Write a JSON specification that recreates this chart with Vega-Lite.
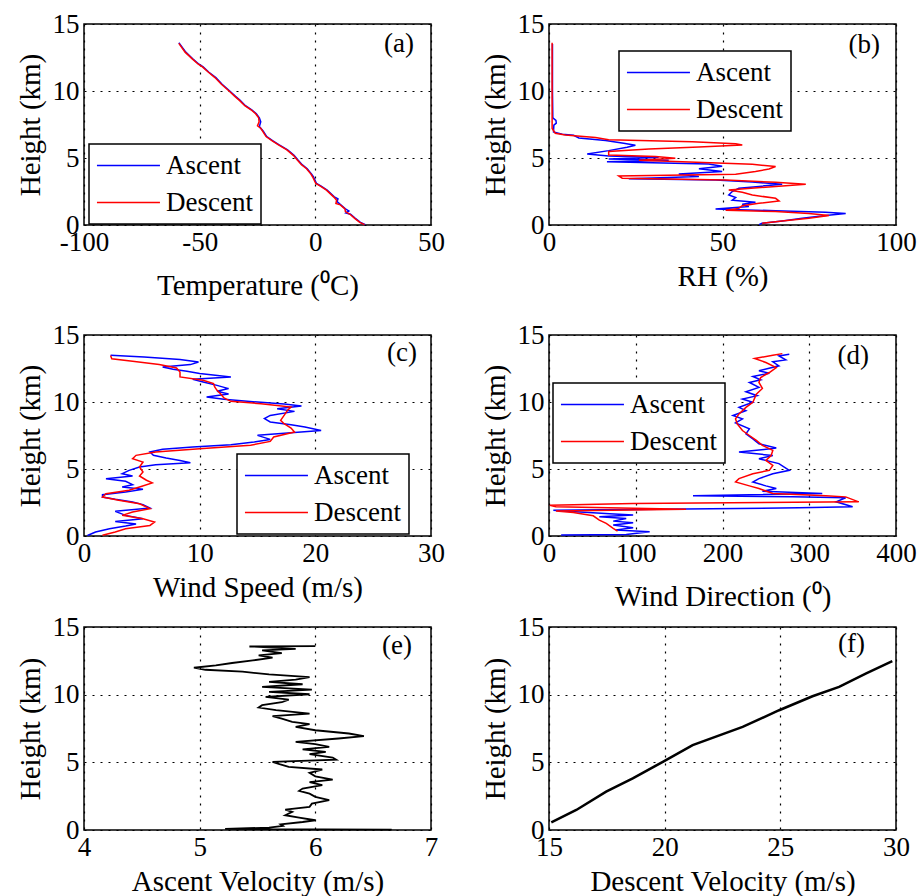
{
  "$schema": "https://vega.github.io/schema/vega-lite/v6.json",
  "background": "white",
  "padding": {"left": 15, "top": 9, "right": 0, "bottom": 0},
  "config": {
    "font": "Liberation Serif",
    "view": {"stroke": "black", "strokeWidth": 1.5},
    "axis": {"domain": false, "ticks": false, "grid": true, "gridColor": "black", "gridDash": [2, 6], "gridWidth": 1.2, "gridOpacity": 1,
      "labelFont": "Liberation Serif", "labelFontSize": 27, "labelFontWeight": "normal", "labelColor": "black",
      "titleFont": "Liberation Serif", "titleFontSize": 29, "titleFontWeight": "normal", "titleColor": "black",
      "labelFlush": false, "labelOverlap": false},
    "axisX": {"labelPadding": 4, "titleBaseline": "alphabetic", "titleY": 60},
    "axisY": {"labelPadding": 5, "titleBaseline": "alphabetic", "titleX": -45},
    "legend": {"orient": "none", "symbolType": "M-1.29,0H4.71", "symbolSize": 441, "symbolStrokeWidth": 1.5,
      "labelFont": "Liberation Serif", "labelFontSize": 27, "labelFontWeight": "normal", "labelColor": "black",
      "labelOffset": 42, "rowPadding": 9, "padding": 8, "strokeColor": "black", "fillColor": "white", "strokeWidth": 1.5},
    "title": {"font": "Liberation Serif", "fontSize": 27, "fontWeight": "normal", "color": "black", "anchor": "end", "frame": "group", "baseline": "alphabetic"}
  },
  "datasets": {
    "temp": [
      {"s":"Ascent","h":0.03,"v":21.6},{"s":"Ascent","h":0.2,"v":19.5},{"s":"Ascent","h":0.5,"v":17.3},{"s":"Ascent","h":0.8,"v":15.2},{"s":"Ascent","h":0.9,"v":13.2},{"s":"Ascent","h":1.05,"v":14.5},{"s":"Ascent","h":1.2,"v":13.0},{"s":"Ascent","h":1.5,"v":11.0},{"s":"Ascent","h":1.75,"v":9.4},{"s":"Ascent","h":1.95,"v":9.8},{"s":"Ascent","h":2.1,"v":8.2},{"s":"Ascent","h":2.6,"v":5.1},{"s":"Ascent","h":2.9,"v":2.5},{"s":"Ascent","h":3.1,"v":0.5},{"s":"Ascent","h":3.6,"v":-0.8},{"s":"Ascent","h":3.8,"v":-1.6},{"s":"Ascent","h":4.2,"v":-3.5},{"s":"Ascent","h":4.5,"v":-5.7},{"s":"Ascent","h":4.85,"v":-7.5},{"s":"Ascent","h":5.2,"v":-9.2},{"s":"Ascent","h":5.6,"v":-12.0},{"s":"Ascent","h":6.0,"v":-15.8},{"s":"Ascent","h":6.3,"v":-18.5},{"s":"Ascent","h":6.6,"v":-21.0},{"s":"Ascent","h":7.0,"v":-22.5},{"s":"Ascent","h":7.35,"v":-24.2},{"s":"Ascent","h":7.7,"v":-23.6},{"s":"Ascent","h":8.0,"v":-24.2},{"s":"Ascent","h":8.3,"v":-25.5},{"s":"Ascent","h":8.6,"v":-27.5},{"s":"Ascent","h":8.9,"v":-30.2},{"s":"Ascent","h":9.3,"v":-32.5},{"s":"Ascent","h":9.6,"v":-34.5},{"s":"Ascent","h":10.0,"v":-37.0},{"s":"Ascent","h":10.5,"v":-40.3},{"s":"Ascent","h":11.0,"v":-43.0},{"s":"Ascent","h":11.4,"v":-46.0},{"s":"Ascent","h":11.8,"v":-48.5},{"s":"Ascent","h":12.0,"v":-50.3},{"s":"Ascent","h":12.4,"v":-53.0},{"s":"Ascent","h":12.9,"v":-56.0},{"s":"Ascent","h":13.6,"v":-59.0},
      {"s":"Descent","h":13.55,"v":-59.0},{"s":"Descent","h":12.9,"v":-56.3},{"s":"Descent","h":12.4,"v":-53.2},{"s":"Descent","h":12.0,"v":-50.6},{"s":"Descent","h":11.8,"v":-48.8},{"s":"Descent","h":11.4,"v":-46.2},{"s":"Descent","h":11.0,"v":-43.4},{"s":"Descent","h":10.5,"v":-40.6},{"s":"Descent","h":10.0,"v":-37.3},{"s":"Descent","h":9.6,"v":-34.8},{"s":"Descent","h":9.3,"v":-32.8},{"s":"Descent","h":8.9,"v":-30.5},{"s":"Descent","h":8.6,"v":-27.8},{"s":"Descent","h":8.3,"v":-25.8},{"s":"Descent","h":8.0,"v":-24.5},{"s":"Descent","h":7.7,"v":-24.3},{"s":"Descent","h":7.4,"v":-25.0},{"s":"Descent","h":7.2,"v":-23.5},{"s":"Descent","h":6.6,"v":-21.3},{"s":"Descent","h":6.3,"v":-18.8},{"s":"Descent","h":6.0,"v":-16.1},{"s":"Descent","h":5.6,"v":-12.3},{"s":"Descent","h":5.2,"v":-9.5},{"s":"Descent","h":4.85,"v":-7.8},{"s":"Descent","h":4.5,"v":-6.0},{"s":"Descent","h":4.2,"v":-3.8},{"s":"Descent","h":3.8,"v":-1.9},{"s":"Descent","h":3.6,"v":-1.2},{"s":"Descent","h":3.1,"v":0.2},{"s":"Descent","h":2.9,"v":2.2},{"s":"Descent","h":2.6,"v":4.8},{"s":"Descent","h":2.1,"v":7.9},{"s":"Descent","h":1.85,"v":9.2},{"s":"Descent","h":1.6,"v":8.9},{"s":"Descent","h":1.5,"v":10.8},{"s":"Descent","h":1.2,"v":12.8},{"s":"Descent","h":1.0,"v":13.0},{"s":"Descent","h":0.8,"v":15.0},{"s":"Descent","h":0.5,"v":17.0},{"s":"Descent","h":0.2,"v":19.2},{"s":"Descent","h":0.03,"v":21.3}
    ],
    "rh": [
      {"s":"Ascent","h":13.5,"v":1.0},{"s":"Ascent","h":10.0,"v":1.0},{"s":"Ascent","h":8.0,"v":1.1},{"s":"Ascent","h":7.8,"v":2.0},{"s":"Ascent","h":7.6,"v":2.1},{"s":"Ascent","h":7.45,"v":1.4},{"s":"Ascent","h":6.94,"v":1.3},{"s":"Ascent","h":6.78,"v":3.8},{"s":"Ascent","h":6.7,"v":7.1},{"s":"Ascent","h":6.5,"v":8.6},{"s":"Ascent","h":6.3,"v":16.3},{"s":"Ascent","h":6.1,"v":21.5},{"s":"Ascent","h":5.95,"v":24.9},{"s":"Ascent","h":5.8,"v":22.5},{"s":"Ascent","h":5.55,"v":17.2},{"s":"Ascent","h":5.3,"v":11.0},{"s":"Ascent","h":5.15,"v":17.2},{"s":"Ascent","h":5.03,"v":31.6},{"s":"Ascent","h":4.93,"v":17.2},{"s":"Ascent","h":4.83,"v":34.5},{"s":"Ascent","h":4.72,"v":16.7},{"s":"Ascent","h":4.55,"v":46.0},{"s":"Ascent","h":4.38,"v":49.9},{"s":"Ascent","h":4.2,"v":43.2},{"s":"Ascent","h":4.0,"v":49.9},{"s":"Ascent","h":3.8,"v":37.4},{"s":"Ascent","h":3.62,"v":43.2},{"s":"Ascent","h":3.45,"v":23.0},{"s":"Ascent","h":3.36,"v":48.0},{"s":"Ascent","h":3.2,"v":58.6},{"s":"Ascent","h":3.05,"v":67.2},{"s":"Ascent","h":2.88,"v":60.5},{"s":"Ascent","h":2.74,"v":54.7},{"s":"Ascent","h":2.5,"v":52.8},{"s":"Ascent","h":2.25,"v":51.8},{"s":"Ascent","h":2.05,"v":53.8},{"s":"Ascent","h":1.85,"v":52.8},{"s":"Ascent","h":1.7,"v":59.5},{"s":"Ascent","h":1.55,"v":55.7},{"s":"Ascent","h":1.38,"v":57.6},{"s":"Ascent","h":1.2,"v":48.0},{"s":"Ascent","h":1.06,"v":65.3},{"s":"Ascent","h":0.96,"v":79.7},{"s":"Ascent","h":0.86,"v":85.5},{"s":"Ascent","h":0.7,"v":79.7},{"s":"Ascent","h":0.5,"v":73.0},{"s":"Ascent","h":0.3,"v":67.2},{"s":"Ascent","h":0.13,"v":61.4},{"s":"Ascent","h":0.03,"v":60.5},
      {"s":"Descent","h":13.6,"v":0.9},{"s":"Descent","h":10.0,"v":0.9},{"s":"Descent","h":7.2,"v":0.9},{"s":"Descent","h":6.85,"v":1.8},{"s":"Descent","h":6.72,"v":4.7},{"s":"Descent","h":6.53,"v":13.4},{"s":"Descent","h":6.36,"v":17.2},{"s":"Descent","h":6.22,"v":41.3},{"s":"Descent","h":6.07,"v":53.8},{"s":"Descent","h":5.97,"v":55.7},{"s":"Descent","h":5.82,"v":43.2},{"s":"Descent","h":5.67,"v":28.8},{"s":"Descent","h":5.48,"v":17.2},{"s":"Descent","h":5.23,"v":17.2},{"s":"Descent","h":5.11,"v":30.7},{"s":"Descent","h":4.98,"v":36.4},{"s":"Descent","h":4.84,"v":25.9},{"s":"Descent","h":4.73,"v":36.4},{"s":"Descent","h":4.53,"v":58.6},{"s":"Descent","h":4.36,"v":65.3},{"s":"Descent","h":4.18,"v":63.4},{"s":"Descent","h":3.99,"v":59.5},{"s":"Descent","h":3.79,"v":53.8},{"s":"Descent","h":3.66,"v":20.1},{"s":"Descent","h":3.49,"v":21.1},{"s":"Descent","h":3.36,"v":50.9},{"s":"Descent","h":3.19,"v":65.3},{"s":"Descent","h":3.04,"v":74.0},{"s":"Descent","h":2.87,"v":65.3},{"s":"Descent","h":2.62,"v":51.8},{"s":"Descent","h":2.44,"v":55.7},{"s":"Descent","h":2.24,"v":58.6},{"s":"Descent","h":1.99,"v":65.3},{"s":"Descent","h":1.79,"v":66.3},{"s":"Descent","h":1.62,"v":60.5},{"s":"Descent","h":1.44,"v":55.7},{"s":"Descent","h":1.24,"v":54.7},{"s":"Descent","h":1.1,"v":50.9},{"s":"Descent","h":1.0,"v":65.3},{"s":"Descent","h":0.85,"v":74.9},{"s":"Descent","h":0.7,"v":80.7},{"s":"Descent","h":0.5,"v":74.9},{"s":"Descent","h":0.3,"v":67.2},{"s":"Descent","h":0.13,"v":61.4}
    ],
    "ws": [
      {"s":"Ascent","h":13.48,"v":2.3},{"s":"Ascent","h":13.36,"v":5.2},{"s":"Ascent","h":13.18,"v":8.3},{"s":"Ascent","h":12.99,"v":9.9},{"s":"Ascent","h":12.79,"v":9.2},{"s":"Ascent","h":12.61,"v":6.8},{"s":"Ascent","h":12.44,"v":7.7},{"s":"Ascent","h":12.29,"v":8.9},{"s":"Ascent","h":12.12,"v":10.0},{"s":"Ascent","h":11.87,"v":12.7},{"s":"Ascent","h":11.69,"v":9.4},{"s":"Ascent","h":11.49,"v":10.3},{"s":"Ascent","h":11.24,"v":11.5},{"s":"Ascent","h":11.0,"v":12.5},{"s":"Ascent","h":10.8,"v":11.5},{"s":"Ascent","h":10.6,"v":12.5},{"s":"Ascent","h":10.37,"v":10.6},{"s":"Ascent","h":10.2,"v":12.1},{"s":"Ascent","h":10.0,"v":15.0},{"s":"Ascent","h":9.85,"v":17.3},{"s":"Ascent","h":9.7,"v":18.8},{"s":"Ascent","h":9.5,"v":16.7},{"s":"Ascent","h":9.3,"v":18.2},{"s":"Ascent","h":9.0,"v":16.1},{"s":"Ascent","h":8.76,"v":15.6},{"s":"Ascent","h":8.51,"v":16.1},{"s":"Ascent","h":8.31,"v":17.9},{"s":"Ascent","h":8.13,"v":19.1},{"s":"Ascent","h":7.88,"v":20.5},{"s":"Ascent","h":7.71,"v":17.9},{"s":"Ascent","h":7.51,"v":15.0},{"s":"Ascent","h":7.21,"v":16.1},{"s":"Ascent","h":7.01,"v":14.7},{"s":"Ascent","h":6.81,"v":12.7},{"s":"Ascent","h":6.64,"v":9.4},{"s":"Ascent","h":6.47,"v":6.8},{"s":"Ascent","h":6.27,"v":5.7},{"s":"Ascent","h":6.02,"v":6.0},{"s":"Ascent","h":5.82,"v":7.1},{"s":"Ascent","h":5.64,"v":8.3},{"s":"Ascent","h":5.47,"v":9.2},{"s":"Ascent","h":5.32,"v":6.2},{"s":"Ascent","h":5.15,"v":4.8},{"s":"Ascent","h":4.9,"v":3.9},{"s":"Ascent","h":4.65,"v":3.3},{"s":"Ascent","h":4.48,"v":4.2},{"s":"Ascent","h":4.28,"v":1.9},{"s":"Ascent","h":4.08,"v":3.6},{"s":"Ascent","h":3.83,"v":4.2},{"s":"Ascent","h":3.66,"v":3.3},{"s":"Ascent","h":3.48,"v":5.1},{"s":"Ascent","h":3.28,"v":3.6},{"s":"Ascent","h":3.08,"v":1.6},{"s":"Ascent","h":2.91,"v":1.6},{"s":"Ascent","h":2.74,"v":2.7},{"s":"Ascent","h":2.54,"v":4.2},{"s":"Ascent","h":2.34,"v":5.1},{"s":"Ascent","h":2.09,"v":5.7},{"s":"Ascent","h":1.84,"v":2.7},{"s":"Ascent","h":1.54,"v":3.6},{"s":"Ascent","h":1.29,"v":5.1},{"s":"Ascent","h":1.09,"v":2.7},{"s":"Ascent","h":0.89,"v":4.5},{"s":"Ascent","h":0.74,"v":3.6},{"s":"Ascent","h":0.54,"v":2.2},{"s":"Ascent","h":0.3,"v":1.0},{"s":"Ascent","h":0.04,"v":0.3},
      {"s":"Descent","h":13.47,"v":2.3},{"s":"Descent","h":13.23,"v":2.4},{"s":"Descent","h":13.04,"v":4.2},{"s":"Descent","h":12.79,"v":6.5},{"s":"Descent","h":12.54,"v":8.0},{"s":"Descent","h":12.24,"v":8.3},{"s":"Descent","h":11.87,"v":8.3},{"s":"Descent","h":11.62,"v":10.3},{"s":"Descent","h":11.37,"v":11.2},{"s":"Descent","h":11.12,"v":11.3},{"s":"Descent","h":10.87,"v":11.5},{"s":"Descent","h":10.62,"v":11.8},{"s":"Descent","h":10.3,"v":12.1},{"s":"Descent","h":10.05,"v":12.7},{"s":"Descent","h":9.87,"v":15.3},{"s":"Descent","h":9.63,"v":17.9},{"s":"Descent","h":9.38,"v":17.6},{"s":"Descent","h":9.0,"v":17.3},{"s":"Descent","h":8.63,"v":17.0},{"s":"Descent","h":8.38,"v":17.3},{"s":"Descent","h":8.06,"v":17.9},{"s":"Descent","h":7.76,"v":18.2},{"s":"Descent","h":7.39,"v":16.4},{"s":"Descent","h":7.06,"v":16.1},{"s":"Descent","h":6.77,"v":14.4},{"s":"Descent","h":6.52,"v":10.0},{"s":"Descent","h":6.27,"v":6.2},{"s":"Descent","h":6.02,"v":4.5},{"s":"Descent","h":5.77,"v":4.2},{"s":"Descent","h":5.52,"v":5.1},{"s":"Descent","h":5.15,"v":4.8},{"s":"Descent","h":4.78,"v":5.1},{"s":"Descent","h":4.48,"v":4.8},{"s":"Descent","h":4.16,"v":5.4},{"s":"Descent","h":3.96,"v":5.9},{"s":"Descent","h":3.66,"v":4.8},{"s":"Descent","h":3.41,"v":3.9},{"s":"Descent","h":3.16,"v":1.9},{"s":"Descent","h":2.91,"v":1.6},{"s":"Descent","h":2.66,"v":3.0},{"s":"Descent","h":2.41,"v":4.8},{"s":"Descent","h":2.04,"v":5.7},{"s":"Descent","h":1.79,"v":4.2},{"s":"Descent","h":1.54,"v":3.3},{"s":"Descent","h":1.29,"v":5.1},{"s":"Descent","h":1.04,"v":6.1},{"s":"Descent","h":0.79,"v":5.7},{"s":"Descent","h":0.54,"v":3.6},{"s":"Descent","h":0.3,"v":2.7},{"s":"Descent","h":0.05,"v":1.6}
    ],
    "wd": [
      {"s":"Ascent","h":13.56,"v":277},{"s":"Ascent","h":13.44,"v":265},{"s":"Ascent","h":13.14,"v":273},{"s":"Ascent","h":13.0,"v":258},{"s":"Ascent","h":12.7,"v":265},{"s":"Ascent","h":12.33,"v":242},{"s":"Ascent","h":12.15,"v":254},{"s":"Ascent","h":11.9,"v":235},{"s":"Ascent","h":11.66,"v":244},{"s":"Ascent","h":11.46,"v":231},{"s":"Ascent","h":11.09,"v":242},{"s":"Ascent","h":10.77,"v":227},{"s":"Ascent","h":10.47,"v":240},{"s":"Ascent","h":10.22,"v":223},{"s":"Ascent","h":9.98,"v":235},{"s":"Ascent","h":9.6,"v":219},{"s":"Ascent","h":9.36,"v":227},{"s":"Ascent","h":8.99,"v":212},{"s":"Ascent","h":8.74,"v":223},{"s":"Ascent","h":8.44,"v":215},{"s":"Ascent","h":8.0,"v":231},{"s":"Ascent","h":7.62,"v":227},{"s":"Ascent","h":7.25,"v":235},{"s":"Ascent","h":6.88,"v":242},{"s":"Ascent","h":6.56,"v":262},{"s":"Ascent","h":6.26,"v":219},{"s":"Ascent","h":6.01,"v":258},{"s":"Ascent","h":5.77,"v":242},{"s":"Ascent","h":5.4,"v":265},{"s":"Ascent","h":4.9,"v":277},{"s":"Ascent","h":4.65,"v":258},{"s":"Ascent","h":4.28,"v":242},{"s":"Ascent","h":4.03,"v":235},{"s":"Ascent","h":3.74,"v":250},{"s":"Ascent","h":3.54,"v":262},{"s":"Ascent","h":3.34,"v":246},{"s":"Ascent","h":3.17,"v":315},{"s":"Ascent","h":3.0,"v":166},{"s":"Ascent","h":2.92,"v":281},{"s":"Ascent","h":2.85,"v":342},{"s":"Ascent","h":2.55,"v":331},{"s":"Ascent","h":2.18,"v":350},{"s":"Ascent","h":2.1,"v":288},{"s":"Ascent","h":1.93,"v":5},{"s":"Ascent","h":1.81,"v":31},{"s":"Ascent","h":1.66,"v":70},{"s":"Ascent","h":1.56,"v":97},{"s":"Ascent","h":1.44,"v":58},{"s":"Ascent","h":1.31,"v":89},{"s":"Ascent","h":1.11,"v":74},{"s":"Ascent","h":0.99,"v":97},{"s":"Ascent","h":0.82,"v":74},{"s":"Ascent","h":0.62,"v":97},{"s":"Ascent","h":0.45,"v":77},{"s":"Ascent","h":0.32,"v":116},{"s":"Ascent","h":0.12,"v":89},{"s":"Ascent","h":0.07,"v":14},
      {"s":"Descent","h":13.61,"v":269},{"s":"Descent","h":13.49,"v":258},{"s":"Descent","h":13.24,"v":237},{"s":"Descent","h":12.95,"v":250},{"s":"Descent","h":12.57,"v":262},{"s":"Descent","h":12.2,"v":254},{"s":"Descent","h":11.83,"v":244},{"s":"Descent","h":11.46,"v":242},{"s":"Descent","h":11.01,"v":246},{"s":"Descent","h":10.59,"v":239},{"s":"Descent","h":9.98,"v":235},{"s":"Descent","h":9.6,"v":227},{"s":"Descent","h":9.11,"v":219},{"s":"Descent","h":8.74,"v":215},{"s":"Descent","h":8.37,"v":217},{"s":"Descent","h":7.87,"v":223},{"s":"Descent","h":7.5,"v":231},{"s":"Descent","h":7.13,"v":239},{"s":"Descent","h":6.76,"v":246},{"s":"Descent","h":6.39,"v":258},{"s":"Descent","h":6.01,"v":256},{"s":"Descent","h":5.64,"v":250},{"s":"Descent","h":5.27,"v":258},{"s":"Descent","h":4.9,"v":254},{"s":"Descent","h":4.65,"v":235},{"s":"Descent","h":4.28,"v":219},{"s":"Descent","h":4.03,"v":215},{"s":"Descent","h":3.74,"v":231},{"s":"Descent","h":3.54,"v":242},{"s":"Descent","h":3.17,"v":258},{"s":"Descent","h":3.0,"v":319},{"s":"Descent","h":2.92,"v":342},{"s":"Descent","h":2.55,"v":357},{"s":"Descent","h":2.43,"v":97},{"s":"Descent","h":2.3,"v":1},{"s":"Descent","h":2.18,"v":8},{"s":"Descent","h":2.0,"v":158},{"s":"Descent","h":1.86,"v":8},{"s":"Descent","h":1.76,"v":28},{"s":"Descent","h":1.51,"v":51},{"s":"Descent","h":1.19,"v":58},{"s":"Descent","h":0.94,"v":66},{"s":"Descent","h":0.57,"v":74},{"s":"Descent","h":0.37,"v":79}
    ],
    "av": [
      {"h":13.58,"v":6.0},{"h":13.56,"v":5.43},{"h":13.39,"v":5.83},{"h":13.27,"v":5.54},{"h":13.07,"v":5.71},{"h":12.9,"v":5.51},{"h":12.73,"v":5.63},{"h":12.53,"v":5.46},{"h":12.34,"v":5.28},{"h":12.16,"v":5.14},{"h":11.99,"v":4.95},{"h":11.84,"v":5.05},{"h":11.7,"v":5.37},{"h":11.5,"v":5.6},{"h":11.3,"v":5.95},{"h":11.11,"v":5.83},{"h":10.94,"v":5.6},{"h":10.77,"v":5.89},{"h":10.57,"v":5.54},{"h":10.37,"v":5.97},{"h":10.2,"v":5.6},{"h":10.03,"v":5.95},{"h":9.83,"v":5.57},{"h":9.63,"v":5.77},{"h":9.44,"v":5.71},{"h":9.22,"v":5.54},{"h":9.05,"v":5.51},{"h":8.85,"v":5.66},{"h":8.6,"v":5.95},{"h":8.41,"v":5.63},{"h":8.23,"v":5.71},{"h":7.99,"v":5.8},{"h":7.82,"v":5.95},{"h":7.62,"v":5.83},{"h":7.37,"v":6.0},{"h":7.13,"v":6.29},{"h":6.93,"v":6.42},{"h":6.76,"v":6.2},{"h":6.51,"v":5.83},{"h":6.34,"v":6.0},{"h":6.14,"v":6.12},{"h":5.95,"v":5.89},{"h":5.77,"v":6.09},{"h":5.6,"v":5.95},{"h":5.35,"v":6.15},{"h":5.2,"v":6.18},{"h":5.03,"v":5.63},{"h":4.86,"v":5.69},{"h":4.66,"v":5.77},{"h":4.47,"v":6.06},{"h":4.22,"v":5.95},{"h":3.97,"v":6.0},{"h":3.73,"v":6.15},{"h":3.53,"v":5.95},{"h":3.31,"v":6.06},{"h":3.06,"v":5.89},{"h":2.89,"v":5.86},{"h":2.69,"v":5.95},{"h":2.45,"v":6.0},{"h":2.2,"v":6.12},{"h":1.95,"v":5.97},{"h":1.71,"v":5.95},{"h":1.51,"v":5.74},{"h":1.34,"v":5.8},{"h":1.09,"v":5.74},{"h":0.91,"v":5.86},{"h":0.72,"v":6.0},{"h":0.59,"v":5.89},{"h":0.42,"v":5.7},{"h":0.3,"v":5.72},{"h":0.18,"v":5.6},{"h":0.08,"v":5.22},{"h":0.03,"v":6.66}
    ],
    "dv": [
      {"h":0.57,"v":15.1},{"h":1.48,"v":16.18},{"h":2.83,"v":17.47},{"h":3.81,"v":18.62},{"h":5.04,"v":19.92},{"h":6.27,"v":21.21},{"h":7.62,"v":23.37},{"h":8.85,"v":24.95},{"h":9.88,"v":26.39},{"h":10.57,"v":27.54},{"h":11.56,"v":28.69},{"h":12.47,"v":29.84}
    ]
  },
  "resolve": {"scale": {"color": "independent"}, "legend": {"color": "independent"}},
  "bounds": "flush",
  "spacing": 311,
  "vconcat": [
    {
      "hconcat": [
        {
          "width": 347, "height": 201,
          "data": {"name": "temp"},
          "title": {"text": "(a)", "offset": -48, "dx": -17},
          "mark": {"type": "line", "strokeWidth": 1.5},
          "encoding": {
            "x": {"field": "v", "type": "quantitative", "scale": {"domain": [-100, 50], "nice": false, "zero": false}, "axis": {"values": [-100, -50, 0, 50], "title": "Temperature (⁰C)", "titleY": 69, "labelExpr": "'' + datum.value"}},
            "y": {"field": "h", "type": "quantitative", "scale": {"domain": [0, 15], "nice": false}, "axis": {"values": [0, 5, 10, 15], "title": "Height (km)"}},
            "color": {"field": "s", "type": "nominal", "scale": {"domain": ["Ascent", "Descent"], "range": ["#0000ff", "#ff0000"]}, "legend": {"title": null, "legendX": 5, "legendY": 120}},
            "order": {"field": "h", "type": "quantitative"}
          }
        },
        {
          "width": 347, "height": 201,
          "data": {"name": "rh"},
          "title": {"text": "(b)", "offset": -49, "dx": -16},
          "mark": {"type": "line", "strokeWidth": 1.5},
          "encoding": {
            "x": {"field": "v", "type": "quantitative", "scale": {"domain": [0, 100], "nice": false}, "axis": {"values": [0, 50, 100], "title": "RH (%)"}},
            "y": {"field": "h", "type": "quantitative", "scale": {"domain": [0, 15], "nice": false}, "axis": {"values": [0, 5, 10, 15], "title": "Height (km)"}},
            "color": {"field": "s", "type": "nominal", "scale": {"domain": ["Ascent", "Descent"], "range": ["#0000ff", "#ff0000"]}, "legend": {"title": null, "legendX": 70, "legendY": 27}},
            "order": {"field": "h", "type": "quantitative"}
          }
        }
      ],
      "spacing": 118, "bounds": "flush",
      "resolve": {"scale": {"color": "independent"}, "legend": {"color": "independent"}}
    },
    {
      "vconcat": [
        {
          "hconcat": [
            {
              "width": 347, "height": 201,
              "data": {"name": "ws"},
              "title": {"text": "(c)", "offset": -46, "dx": -14},
              "mark": {"type": "line", "strokeWidth": 1.5},
              "encoding": {
                "x": {"field": "v", "type": "quantitative", "scale": {"domain": [0, 30], "nice": false}, "axis": {"values": [0, 10, 20, 30], "title": "Wind Speed (m/s)"}},
                "y": {"field": "h", "type": "quantitative", "scale": {"domain": [0, 15], "nice": false}, "axis": {"values": [0, 5, 10, 15], "title": "Height (km)"}},
                "color": {"field": "s", "type": "nominal", "scale": {"domain": ["Ascent", "Descent"], "range": ["#0000ff", "#ff0000"]}, "legend": {"title": null, "legendX": 153, "legendY": 119}},
                "order": {"field": "h", "type": "quantitative"}
              }
            },
            {
              "width": 347, "height": 201,
              "data": {"name": "wd"},
              "title": {"text": "(d)", "offset": -49, "dx": -27},
              "mark": {"type": "line", "strokeWidth": 1.5},
              "encoding": {
                "x": {"field": "v", "type": "quantitative", "scale": {"domain": [0, 400], "nice": false}, "axis": {"values": [0, 100, 200, 300, 400], "title": "Wind Direction (⁰)", "titleY": 69}},
                "y": {"field": "h", "type": "quantitative", "scale": {"domain": [0, 15], "nice": false}, "axis": {"values": [0, 5, 10, 15], "title": "Height (km)"}},
                "color": {"field": "s", "type": "nominal", "scale": {"domain": ["Ascent", "Descent"], "range": ["#0000ff", "#ff0000"]}, "legend": {"title": null, "legendX": 4, "legendY": 48}},
                "order": {"field": "h", "type": "quantitative"}
              }
            }
          ],
          "spacing": 118, "bounds": "flush",
          "resolve": {"scale": {"color": "independent"}, "legend": {"color": "independent"}}
        },
        {
          "hconcat": [
            {
              "width": 347, "height": 203,
              "data": {"name": "av"},
              "title": {"text": "(e)", "offset": -47, "dx": -19},
              "mark": {"type": "line", "strokeWidth": 1.8, "color": "black"},
              "encoding": {
                "x": {"field": "v", "type": "quantitative", "scale": {"domain": [4, 7], "nice": false, "zero": false}, "axis": {"values": [4, 5, 6, 7], "title": "Ascent Velocity (m/s)"}},
                "y": {"field": "h", "type": "quantitative", "scale": {"domain": [0, 15], "nice": false}, "axis": {"values": [0, 5, 10, 15], "title": "Height (km)"}},
                "order": {"field": "h", "type": "quantitative"}
              }
            },
            {
              "width": 347, "height": 203,
              "data": {"name": "dv"},
              "title": {"text": "(f)", "offset": -45, "dx": -31},
              "mark": {"type": "line", "strokeWidth": 2.5, "color": "black"},
              "encoding": {
                "x": {"field": "v", "type": "quantitative", "scale": {"domain": [15, 30], "nice": false, "zero": false}, "axis": {"values": [15, 20, 25, 30], "title": "Descent Velocity (m/s)"}},
                "y": {"field": "h", "type": "quantitative", "scale": {"domain": [0, 15], "nice": false}, "axis": {"values": [0, 5, 10, 15], "title": "Height (km)"}},
                "order": {"field": "h", "type": "quantitative"}
              }
            }
          ],
          "spacing": 118, "bounds": "flush"
        }
      ],
      "spacing": 292, "bounds": "flush",
      "resolve": {"scale": {"color": "independent"}, "legend": {"color": "independent"}}
    }
  ]
}
